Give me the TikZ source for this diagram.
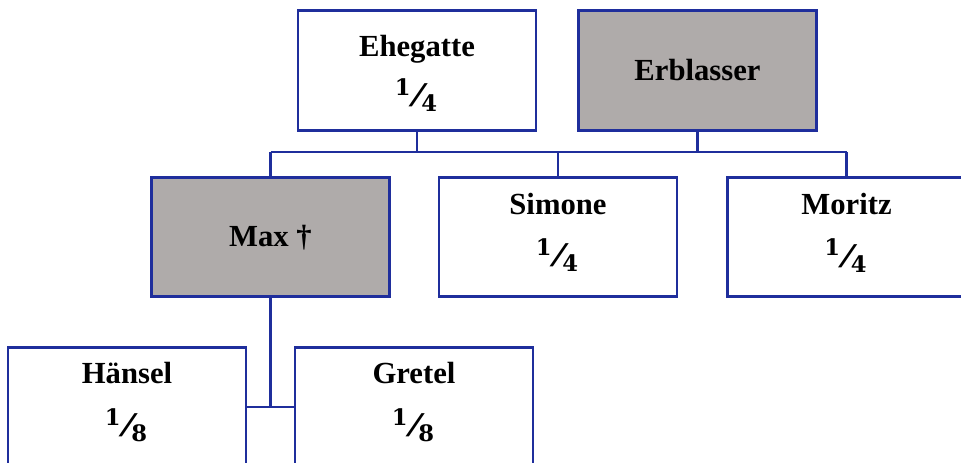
\documentclass[tikz,border=0pt]{standalone}
\usepackage{graphicx}
\usepackage{fontspec}
\setmainfont{Liberation Serif}
\newfontfamily\digfont{DejaVu Serif}
\definecolor{lineblue}{RGB}{31,46,156}
\definecolor{boxgray}{RGB}{175,171,170}
\newcommand{\fracdig}[1]{{\digfont\bfseries\fontsize{17}{18}\selectfont #1}}
\newcommand{\myfrac}[2]{\raisebox{8.6pt}{\fracdig{#1}}\kern-1.5pt\scalebox{2.0}[1]{\mdseries\fontsize{26}{26}\selectfont /}\kern-5pt\raisebox{-4.1pt}{\fracdig{#2}}}
\begin{document}
\begin{tikzpicture}[x=0.75pt,y=-0.75pt,
  person/.style={draw=lineblue,line width=2.2pt,fill=white,minimum width=178.5pt,minimum height=89.5pt,inner sep=0pt},
  dead/.style={person,fill=boxgray},
  lbl/.style={font=\bfseries\fontsize{23}{26}\selectfont,inner sep=0pt,anchor=base},
  link/.style={draw=lineblue,line width=2.2pt}]
\useasboundingbox (0,0) rectangle (961,462);
\clip (0,0) rectangle (961,462);
% boxes
\node[person] (ehe) at (417,70.5) {};
\node[dead]   (erb) at (697.5,70.5) {};
\node[dead]   (max) at (270.5,237) {};
\node[person] (sim) at (558,237) {};
\node[person] (mor) at (846.5,237) {};
\node[person] (han) at (127,407) {};
\node[person] (gre) at (414,407) {};
% labels
\node[lbl] (ehe-n) at (417,56.5) {Ehegatte};
\node[lbl] (ehe-f) at (416,106.5) {\myfrac{1}{4}};
\node[lbl] (erb-n) at (697.5,80) {Erblasser};
\node[lbl] (max-n) at (270.5,246) {Max †};
\node[lbl] (sim-n) at (558,214.5) {Simone};
\node[lbl] (sim-f) at (557,266.5) {\myfrac{1}{4}};
\node[lbl] (mor-n) at (846.5,214.5) {Moritz};
\node[lbl] (mor-f) at (845.5,267) {\myfrac{1}{4}};
\node[lbl] (han-n) at (127,383) {Hänsel};
\node[lbl] (han-f) at (126,436.5) {\myfrac{1}{8}};
\node[lbl] (gre-n) at (414,383) {Gretel};
\node[lbl] (gre-f) at (413,436.5) {\myfrac{1}{8}};
% connectors
\coordinate (busL) at (270.5,152);
\coordinate (busR) at (846.5,152);
\draw[link] (busL) -- (busR);
\draw[link] (ehe.south) -- (ehe.south |- busL);
\draw[link] (erb.south) -- (erb.south |- busL);
\draw[link] (max.north) -- (max.north |- busL);
\draw[link] (sim.north) -- (sim.north |- busL);
\draw[link] (mor.north) -- (mor.north |- busL);
\draw[link] (max.south) -- (max.south |- han.east);
\draw[link] (han.east) -- (gre.west);
\end{tikzpicture}
\end{document}
